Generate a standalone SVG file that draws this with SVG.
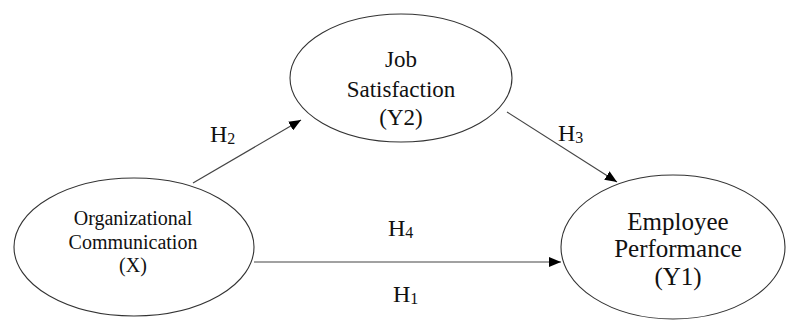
<svg xmlns="http://www.w3.org/2000/svg" width="789" height="322" viewBox="0 0 789 322">
<style>
.node ellipse{fill:#fff;stroke:#333;stroke-width:1.1}
.t{font-family:"Liberation Serif","Times New Roman",serif;fill:#111;text-anchor:middle}
.h{font-family:"Liberation Serif","Times New Roman",serif;fill:#111;font-size:24px}
.sub{font-size:16px}
.edge{stroke:#444;stroke-width:1.2;fill:none;marker-end:url(#ah)}
</style>
<defs>
<marker id="ah" viewBox="0 0 12 10" refX="12" refY="5" markerWidth="12" markerHeight="10" markerUnits="userSpaceOnUse" orient="auto">
<path d="M0,0 L12,5 L0,10 Z" fill="#000"/>
</marker>
</defs>
<rect width="789" height="322" fill="#fff"/>
<g id="connectors">
<line class="edge" x1="193" y1="183" x2="301" y2="120"/>
<line class="edge" x1="507" y1="112" x2="617" y2="182"/>
<line class="edge" x1="254" y1="262" x2="561" y2="262"/>
</g>
<g id="labels">
<text class="h" x="210" y="142">H<tspan class="sub" dy="2">2</tspan></text>
<text class="h" x="558" y="141">H<tspan class="sub" dy="2">3</tspan></text>
<text class="h" x="388" y="236">H<tspan class="sub" dy="2">4</tspan></text>
<text class="h" x="393" y="302">H<tspan class="sub" dy="2">1</tspan></text>
</g>
<g id="node-x" class="node">
<ellipse cx="134" cy="247" rx="120" ry="69"/>
<text class="t" font-size="20" x="133" y="225">Organizational</text>
<text class="t" font-size="20" x="133" y="249">Communication</text>
<text class="t" font-size="20" x="133" y="272">(X)</text>
</g>
<g id="node-y2" class="node">
<ellipse cx="401" cy="78" rx="111" ry="64"/>
<text class="t" font-size="23" x="401" y="67">Job</text>
<text class="t" font-size="23" x="401" y="97">Satisfaction</text>
<text class="t" font-size="23" x="401" y="125">(Y2)</text>
</g>
<g id="node-y1" class="node">
<ellipse cx="673" cy="247" rx="112" ry="72"/>
<text class="t" font-size="25" x="678" y="230">Employee</text>
<text class="t" font-size="25" x="678" y="257">Performance</text>
<text class="t" font-size="25" x="678" y="285">(Y1)</text>
</g>
</svg>
